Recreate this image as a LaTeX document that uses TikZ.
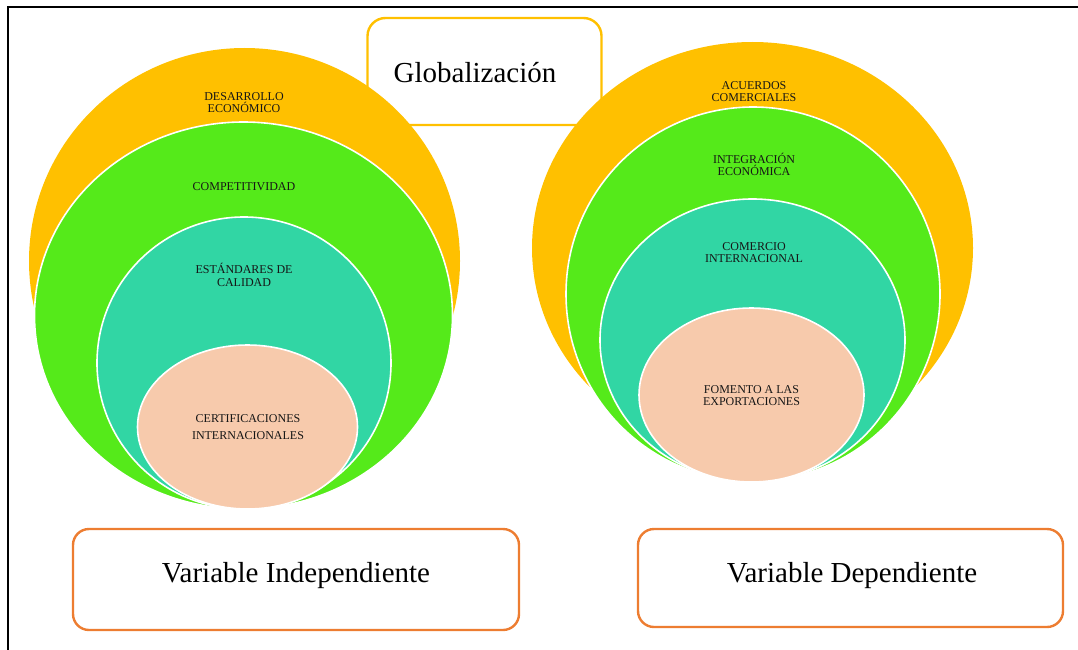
\documentclass[tikz,border=0pt]{standalone}
\usepackage{fontspec}
\setmainfont{Liberation Serif}
\usetikzlibrary{shapes.geometric}
\definecolor{gold}{HTML}{FFC000}
\definecolor{lime}{HTML}{55EA1A}
\definecolor{tealx}{HTML}{31D6A4}
\definecolor{peach}{HTML}{F7CAAC}
\definecolor{boxorange}{HTML}{ED7D31}
\definecolor{labelink}{HTML}{161616}
\begin{document}
\begin{tikzpicture}[x=1pt,y=-1pt,
  ring/.style={ellipse, inner sep=0pt, outer sep=0pt, draw=white, line width=1.6pt},
  lbl/.style={align=center, text=labelink, inner sep=0pt},
  varbox/.style={draw=boxorange, line width=2.4pt, rounded corners=16pt, fill=white, inner sep=0pt},
  globbox/.style={draw=gold, line width=2.4pt, rounded corners=18pt, fill=white, inner sep=0pt},
  bigtext/.style={inner sep=0pt, anchor=base}]
\useasboundingbox (0,0) rectangle (1078,650);
% frame
\draw[line width=1.6pt] (8,652) -- (8,7) -- (1080,7);
% Globalizacion box
\node[globbox, minimum width=234pt, minimum height=107pt] (globbox) at (484.5,71.5) {};
\node[bigtext, font=\fontsize{29}{30}\selectfont] (glob) at (475,83) {Globalización};
% left target
\node[ring, fill=gold, draw=none, minimum width=431pt, minimum height=426pt] (lo) at (244.5,261) {};
\node[ring, fill=lime, minimum width=418pt, minimum height=387pt] (lg) at (243.5,315.5) {};
\node[ring, fill=tealx, minimum width=294pt, minimum height=292pt] (lt) at (244,363) {};
\node[ring, fill=peach, minimum width=220pt, minimum height=164pt] (lp) at (247.5,427) {};
% right target
\node[ring, fill=gold, draw=none, minimum width=441pt, minimum height=412pt] (ro) at (752.5,248) {};
\node[ring, fill=lime, minimum width=374pt, minimum height=374pt] (rg) at (753,294) {};
\node[ring, fill=tealx, minimum width=305pt, minimum height=282pt] (rt) at (752.5,340) {};
\node[ring, fill=peach, minimum width=225pt, minimum height=174pt] (rp) at (751.5,395) {};
% left labels
\node[lbl, font=\fontsize{12}{11.5}\selectfont] (l1) at (244,102.5) {DESARROLLO\\ECONÓMICO};
\node[lbl, font=\fontsize{12}{12}\selectfont] (l2) at (244,187) {COMPETITIVIDAD};
\node[lbl, font=\fontsize{12}{13}\selectfont] (l3) at (244,274.5) {ESTÁNDARES DE\\CALIDAD};
\node[lbl, font=\fontsize{12}{17}\selectfont] (l4) at (248,427.5) {CERTIFICACIONES\\INTERNACIONALES};
% right labels
\node[lbl, font=\fontsize{12}{12}\selectfont] (r1) at (754,92) {ACUERDOS\\COMERCIALES};
\node[lbl, font=\fontsize{12}{12}\selectfont] (r2) at (754,164) {INTEGRACIÓN\\ECONÓMICA};
\node[lbl, font=\fontsize{12}{12}\selectfont] (r3) at (754,253) {COMERCIO\\INTERNACIONAL};
\node[lbl, font=\fontsize{12}{12}\selectfont] (r4) at (751.5,396) {FOMENTO A LAS\\EXPORTACIONES};
% variable boxes
\node[varbox, minimum width=446pt, minimum height=101pt] (vibox) at (296,579.5) {};
\node[bigtext, font=\fontsize{29}{31}\selectfont] (vi) at (296,582) {Variable Independiente};
\node[varbox, minimum width=425pt, minimum height=98pt] (vdbox) at (850.5,578) {};
\node[bigtext, font=\fontsize{29}{31}\selectfont] (vd) at (852,582) {Variable Dependiente};
\end{tikzpicture}
\end{document}
